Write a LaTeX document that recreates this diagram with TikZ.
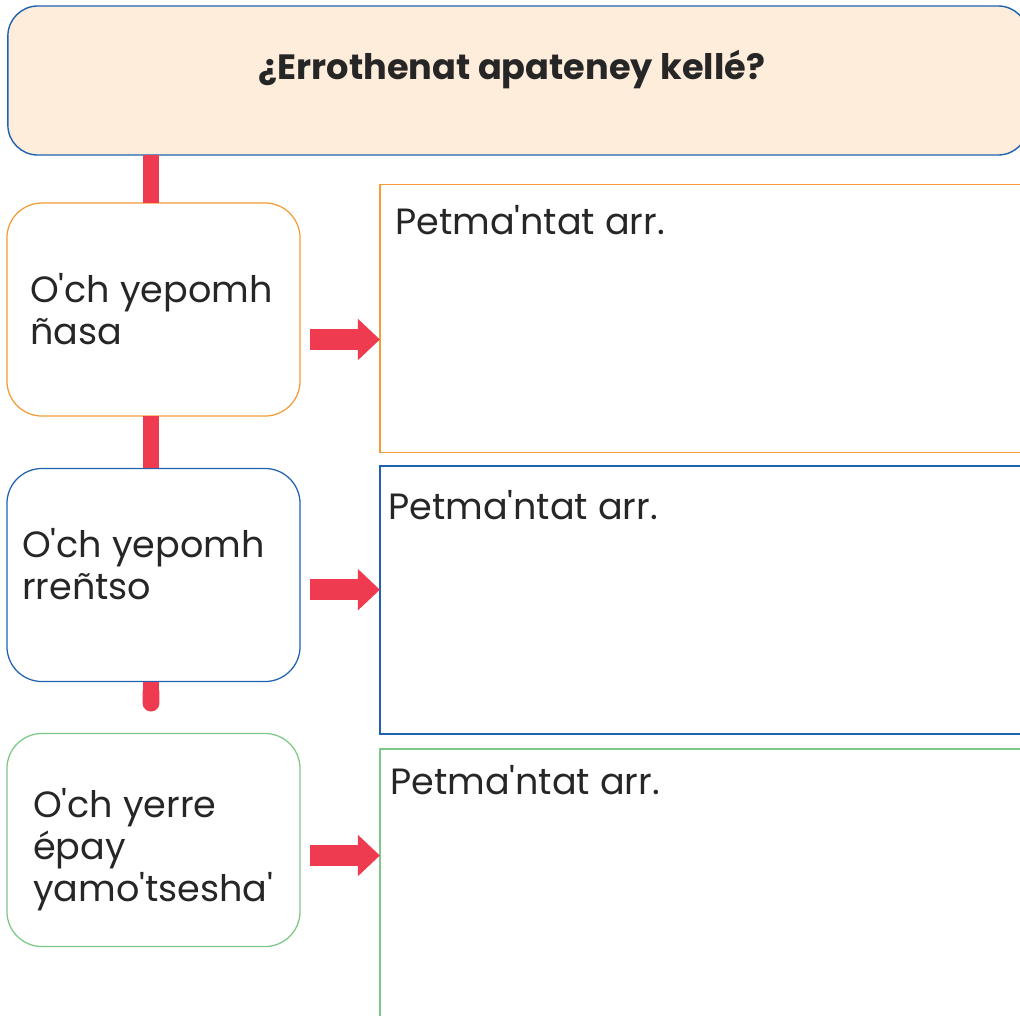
\documentclass[tikz,border=0pt]{standalone}
\usepackage{fontspec}
\setmainfont{Poppins}[Ligatures=TeXOff]
\usetikzlibrary{positioning,calc,arrows.meta}

\definecolor{hdrfill}{HTML}{FFEDDB}
\definecolor{hdrblue}{HTML}{1F62B0}
\definecolor{boxorange}{HTML}{F39C38}
\definecolor{boxblue}{HTML}{1F62B0}
\definecolor{boxgreen}{HTML}{7DC886}
\definecolor{linkred}{HTML}{EF3B4F}

\tikzset{
  header/.style={draw=hdrblue, fill=hdrfill, line width=1pt, rounded corners=0.75cm,
    minimum width=25.5cm, minimum height=3.725cm, inner sep=0pt, outer sep=0pt},
  stage/.style={draw, fill=white, line width=0.9pt, rounded corners=0.875cm,
    minimum width=7.325cm, minimum height=5.325cm, inner sep=0pt, outer sep=0pt},
  answer/.style={draw, line width=0.9pt, minimum width=16.5cm, inner sep=0pt, outer sep=0pt},
  stagetext/.style={align=left, inner sep=0pt, text=black!85,
    font=\fontsize{26}{29.8}\selectfont},
  answertext/.style={inner sep=0pt, text=black!85, font=\fontsize{26}{30}\selectfont},
  link/.style={linkred, line width=0.42cm},
  flow/.style={linkred, line width=0.525cm, -{Triangle[length=0.55cm, width=1cm]}}
}

\begin{document}
\begin{tikzpicture}[x=0.025cm, y=-0.025cm]
  \useasboundingbox (0,0) rectangle (1020,1015);
  \clip (0,0) rectangle (1020,1015);

  % Question on top
  \node[header] (hdr) at (518,80.5) {};
  \node[anchor=base, inner sep=0pt, text=black!85,
    font=\fontsize{25}{30}\selectfont\bfseries] (question) at ($(hdr.north)+(-6,74)$)
    {¿Errothenat apateney kellé?};

  % Three stages on the left
  \node[stage, draw=boxorange] (b1) at (153.5,309.5) {};
  \node[stage, draw=boxblue]   (b2) at (153.5,575)   {};
  \node[stage, draw=boxgreen]  (b3) at (153.5,840)   {};

  \node[stagetext, anchor=west] (t1) at ($(b1.west)+(23,0)$)   {O'ch yepomh\\ñasa};
  \node[stagetext, anchor=west] (t2) at ($(b2.west)+(15,-11)$) {O'ch yepomh\\rreñtso};
  \node[stagetext, anchor=west] (t3) at ($(b3.west)+(26,10)$)  {O'ch yerre\\épay\\yamo'tsesha'};

  % Answer boxes, cut at the right edge
  \node[answer, draw=boxorange, minimum height=6.7cm]   (r1) at (710,318.5) {};
  \node[answer, draw=boxblue,   minimum height=6.7cm]   (r2) at (710,600)   {};
  \node[answer, draw=boxgreen,  minimum height=7.275cm] (r3) at (710,894.5) {};

  \node[answertext, anchor=base west] (p1) at ($(r1.north west)+(15,50.5)$) {Petma'ntat arr.};
  \node[answertext, anchor=base west] (p2) at ($(r2.north west)+(8,54)$)    {Petma'ntat arr.};
  \node[answertext, anchor=base west] (p3) at ($(r3.north west)+(10,46)$)   {Petma'ntat arr.};

  % Red line down the stages
  \coordinate (spine) at ($(b1.north)+(-2.5,0)$);
  \draw[link] (spine |- hdr.south) -- (spine |- b1.north);
  \draw[link] (spine |- b1.south) -- (spine |- b2.north);
  \coordinate (tail) at ($(spine |- b2.south)+(0,30)$);
  \draw[link, -{Round Cap[]}] (spine |- b2.south) -- (tail);

  % Arrows to the answers
  \foreach \i/\dy in {1/30,2/14.7,3/15.5} {
    \coordinate (a\i) at ($(b\i.east)+(10,\dy)$);
    \draw[flow] (a\i) -- (a\i -| r\i.west);
  }
\end{tikzpicture}
\end{document}
